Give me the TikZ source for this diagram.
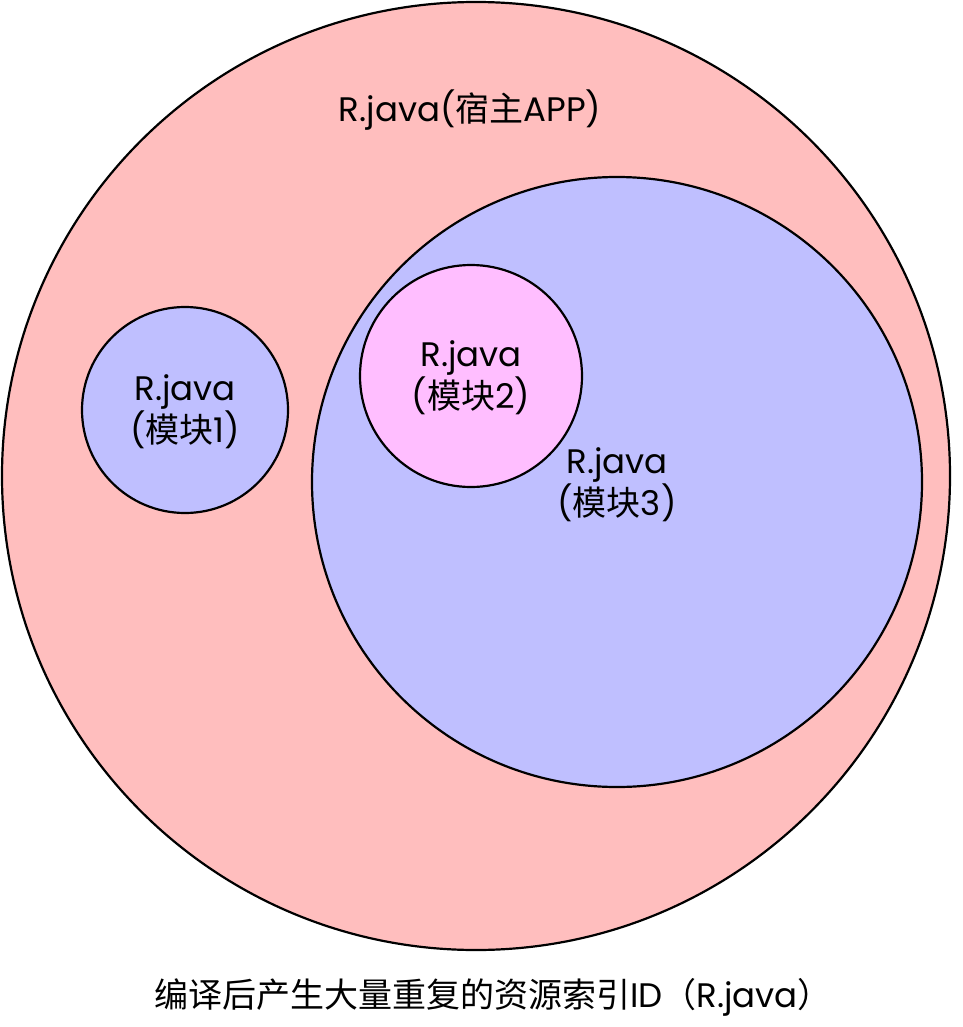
\documentclass[tikz,border=0pt]{standalone}
\usepackage{fontspec}
\setmainfont{Poppins}
\newfontfamily\cjk{Noto Sans CJK SC}
\definecolor{hostpink}{RGB}{255,190,190}
\definecolor{modblue}{RGB}{191,191,255}
\definecolor{modpink}{RGB}{255,190,255}
\begin{document}
\begin{tikzpicture}[x=1pt,y=-1pt,
  ring/.style={circle,draw=black,line width=2.2pt,inner sep=0pt},
  lbl/.style={font=\fontsize{34}{39}\selectfont,align=center,text=black}]
\useasboundingbox (0,0) rectangle (962,1027);
\node[ring,fill=hostpink,minimum size=948pt] (host) at (476,476) {};
\node[ring,fill=modblue,minimum size=610pt] (m3) at (617,482) {};
\node[ring,fill=modpink,minimum size=222pt] (m2) at (471,376) {};
\node[ring,fill=modblue,minimum size=206pt] (m1) at (185,410) {};
\node[lbl] (thost) at (470,110) {R.java({\cjk 宿主}APP)};
\node[lbl] (t1) at (185,412) {R.java\\({\cjk 模块}1)};
\node[lbl] (t2) at (471,378) {R.java\\({\cjk 模块}2)};
\node[lbl] (t3) at (617,485) {R.java\\({\cjk 模块}3)};
\node[lbl] (cap) at (493,997) {{\cjk 编译后产生大量重复的资源索引}ID{\cjk （}R.java{\cjk ）}};
\end{tikzpicture}
\end{document}
